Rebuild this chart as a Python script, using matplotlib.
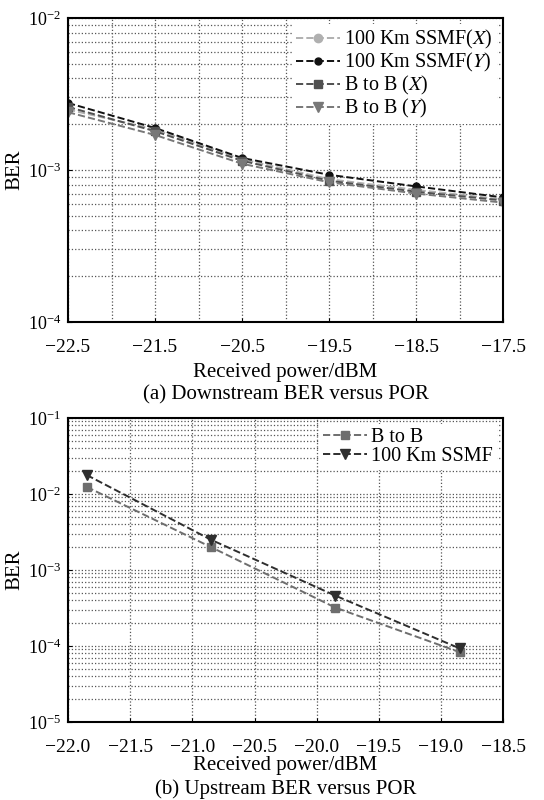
import matplotlib
matplotlib.use("Agg")
from matplotlib import pyplot as plt
from matplotlib.ticker import LogLocator, MultipleLocator, FixedLocator, NullFormatter, FuncFormatter

plt.rcParams['font.family'] = ['Liberation Serif', 'DejaVu Serif']
plt.rcParams['mathtext.fontset'] = 'stix'

# (a) downstream
down_power = [-22.5, -21.5, -20.5, -19.5, -18.5, -17.5]
ssmf_x = [2.5e-3, 1.85e-3, 1.18e-3, 8.7e-4, 7.4e-4, 6.4e-4]
ssmf_y = [2.76e-3, 1.89e-3, 1.2e-3, 9.3e-4, 7.8e-4, 6.6e-4]
btob_x = [2.6e-3, 1.8e-3, 1.15e-3, 8.5e-4, 7.2e-4, 6.3e-4]
btob_y = [2.4e-3, 1.7e-3, 1.1e-3, 8.3e-4, 7.0e-4, 6.1e-4]
down_ticks = [-22.5, -21.5, -20.5, -19.5, -18.5, -17.5]
down_minor = [-22.0, -21.0, -20.0, -19.0, -18.0]

# (b) upstream
up_power = [-21.85, -20.85, -19.85, -18.85]
up_btob = [1.24e-2, 2.0e-3, 3.2e-4, 8.3e-5]
up_ssmf = [1.78e-2, 2.5e-3, 4.6e-4, 9.3e-5]

fig = plt.figure(figsize=(5.44, 8.0), dpi=100)
ax1 = fig.add_axes([0.125, 0.5975, 0.80, 0.38])
ax2 = fig.add_axes([0.125, 0.0975, 0.80, 0.38])

fs = 14
cap = 15

minus = FuncFormatter(lambda v, p: f'{v:.1f}'.replace('-', '\u2212'))


def style_axis(ax, xpad):
    ax.set_yscale('log')
    ax.yaxis.set_major_locator(LogLocator(base=10, numticks=10))
    ax.yaxis.set_minor_locator(LogLocator(base=10, subs=range(2, 10), numticks=20))
    ax.yaxis.set_minor_formatter(NullFormatter())
    ax.grid(True, which='both', linestyle=':', color='#555555', linewidth=0.9)
    ax.tick_params(which='both', direction='in', labelsize=fs)
    ax.tick_params(axis='y', which='both', labelsize=13, pad=5)
    ax.tick_params(axis='x', which='both', pad=12)
    ax.tick_params(which='minor', length=0)
    ax.tick_params(which='major', length=3)
    for sp in ax.spines.values():
        sp.set_linewidth(1.5)
    ax.set_ylabel('BER', fontsize=cap)
    ax.yaxis.set_label_coords(-0.1, 0.5)
    ax.set_xlabel('Received power/dBM', fontsize=cap, labelpad=xpad)
    ax.xaxis.set_major_formatter(minus)


legend_kw = dict(loc='upper right', fontsize=14.5, frameon=True, fancybox=False,
                 edgecolor='none', facecolor='white', framealpha=1.0,
                 handlelength=2.2, handletextpad=0.2, labelspacing=0.0,
                 borderpad=0.2, borderaxespad=0.3)

ax1.plot(down_power, ssmf_x, '--o', color='#b0b0b0', ms=6, lw=1.4, label='100 Km SSMF($\\mathit{X}$)')
ax1.plot(down_power, ssmf_y, '--o', color='#111111', ms=5, lw=1.4, label='100 Km SSMF($\\mathit{Y}$)')
ax1.plot(down_power, btob_x, '--s', color='#505050', ms=6, lw=1.4, label='B to B ($\\mathit{X}$)')
ax1.plot(down_power, btob_y, '--v', color='#787878', ms=7, lw=1.4, label='B to B ($\\mathit{Y}$)')
style_axis(ax1, 5)
ax1.set_xlim(-22.5, -17.5)
ax1.set_ylim(1e-4, 1e-2)
ax1.xaxis.set_major_locator(FixedLocator(down_ticks))
ax1.xaxis.set_minor_locator(FixedLocator(down_minor))
ax1.legend(**legend_kw)
fig.text(0.525, 0.507, '(a) Downstream BER versus POR', ha='center', va='center', fontsize=cap)

ax2.plot(up_power, up_btob, '--s', color='#6e6e6e', ms=6, lw=1.4, label='B to B')
ax2.plot(up_power, up_ssmf, '--v', color='#2e2e2e', ms=7, lw=1.4, label='100 Km SSMF')
style_axis(ax2, 0)
ax2.set_xlim(-22.0, -18.5)
ax2.set_ylim(1e-5, 1e-1)
ax2.xaxis.set_major_locator(MultipleLocator(0.5))
ax2.legend(**legend_kw)
fig.text(0.525, 0.013, '(b) Upstream BER versus POR', ha='center', va='center', fontsize=cap)

fig.savefig('out.png', dpi=100)
